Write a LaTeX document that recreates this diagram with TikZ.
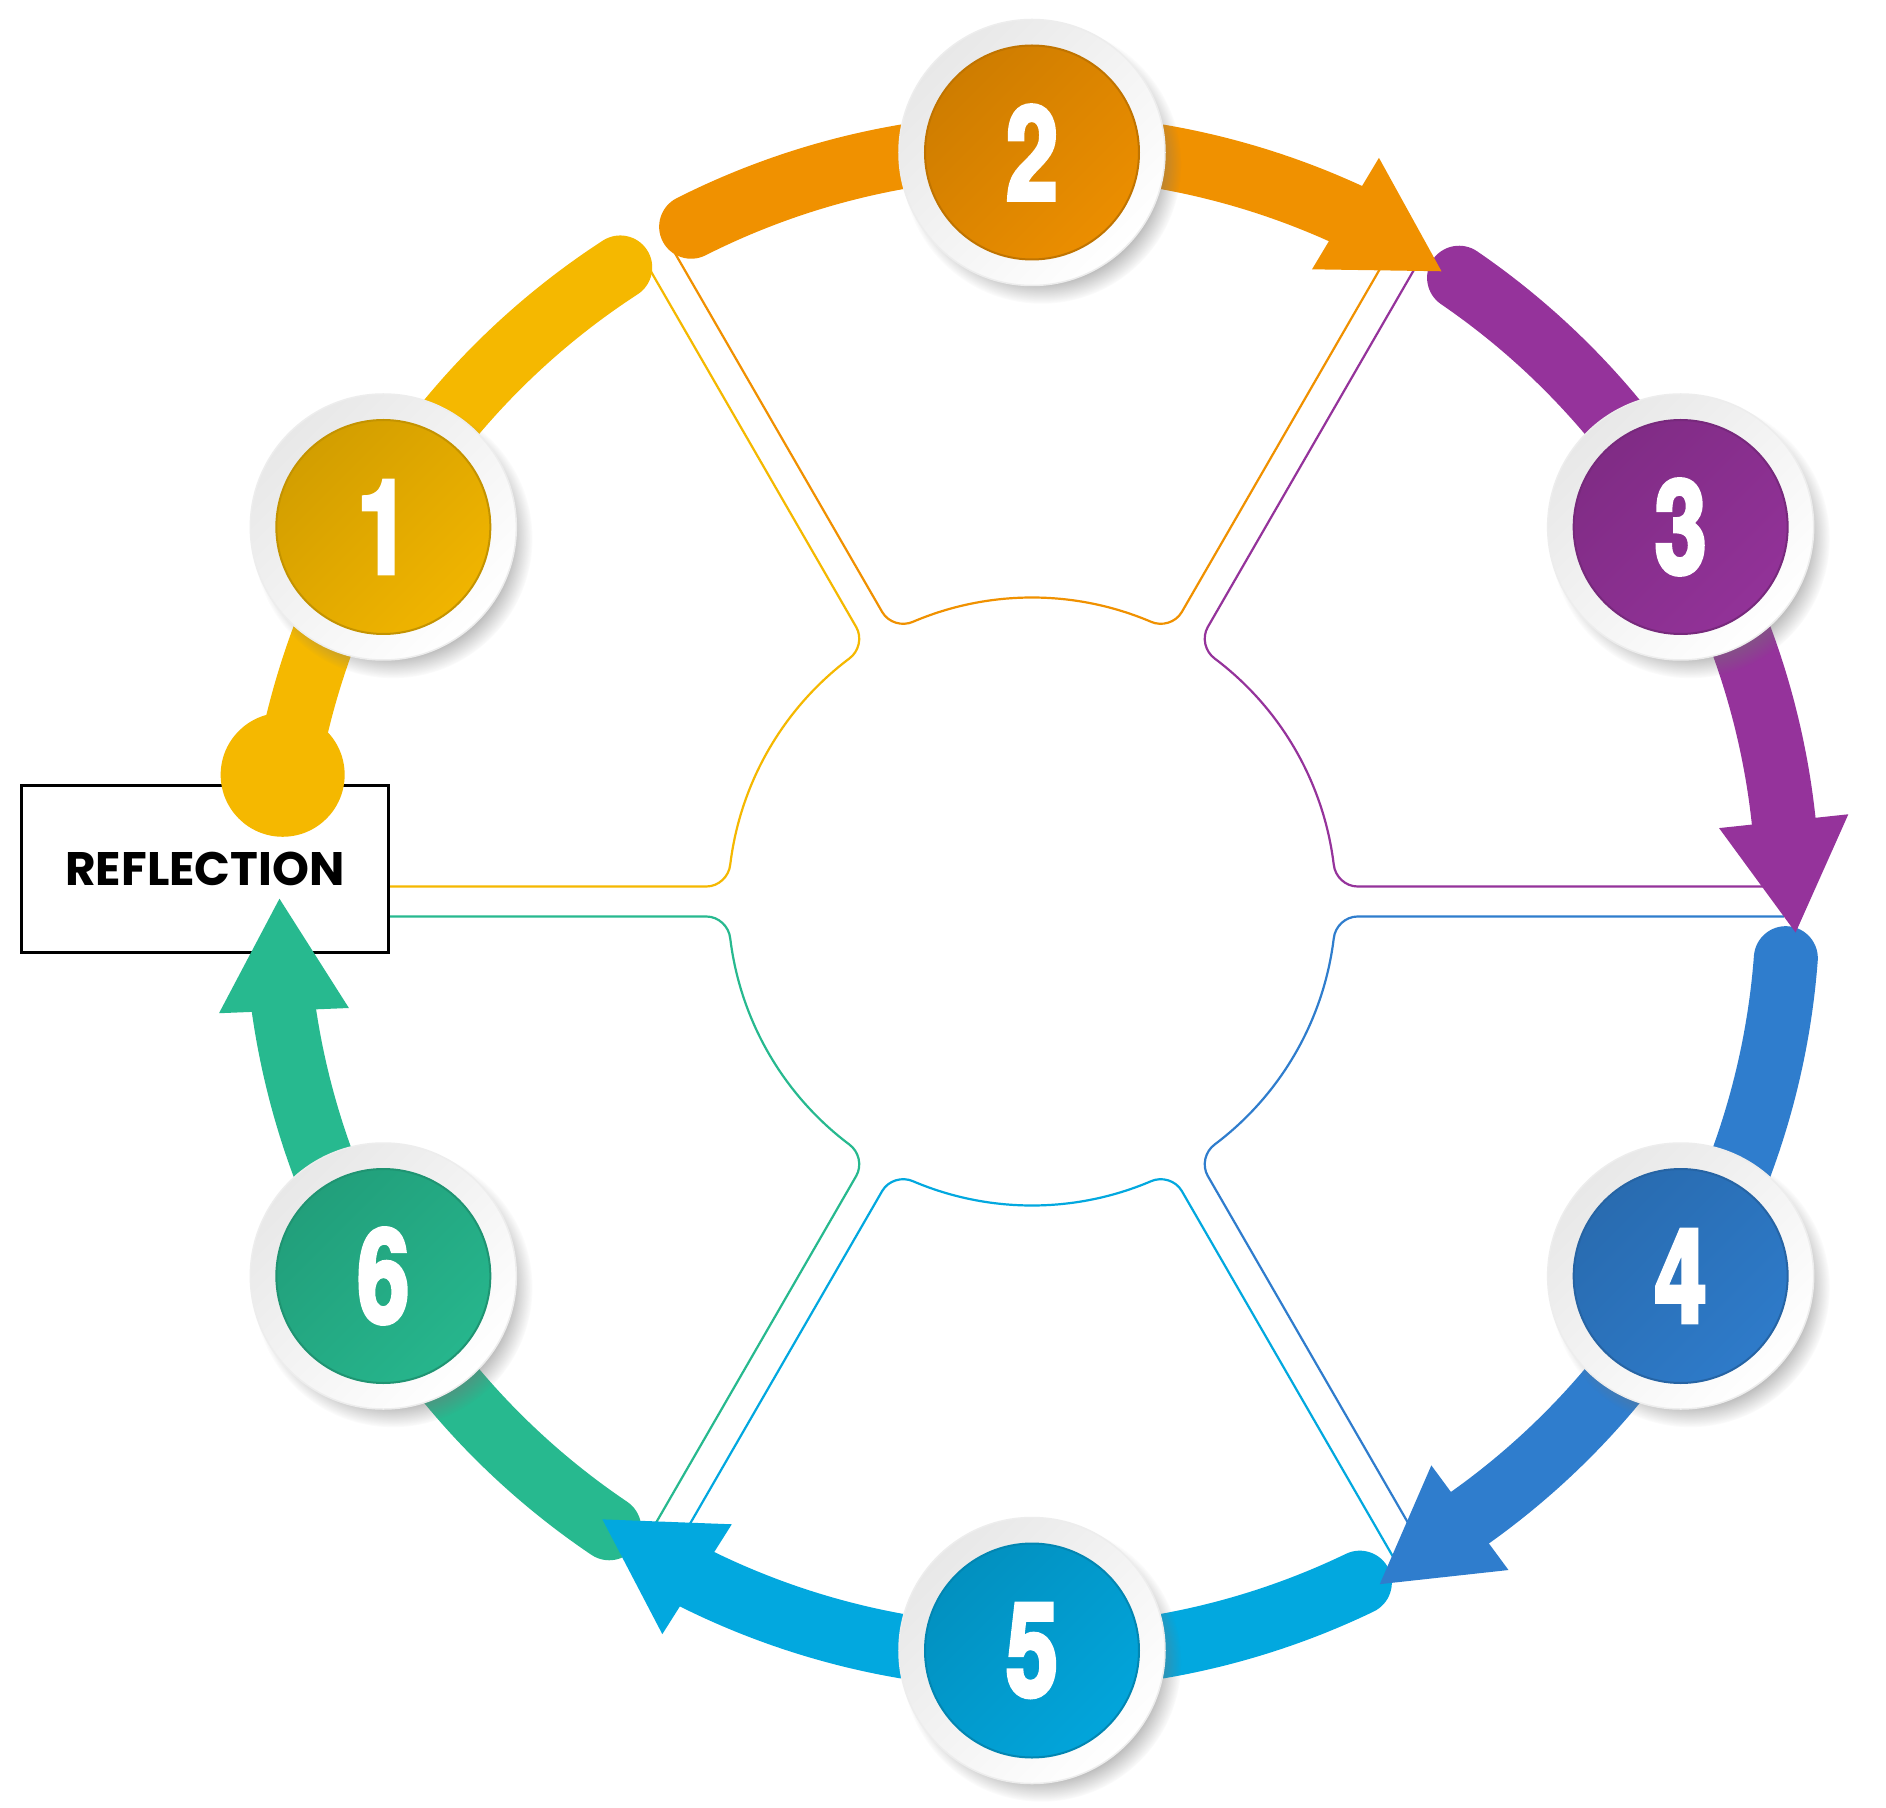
\documentclass[tikz,border=0pt]{standalone}
\usepackage{fontspec}
\usepackage{tikz}
\usetikzlibrary{positioning,shadows,fadings}
\newfontfamily\stepfont{TeX Gyre Heros}[FakeStretch=0.71,FakeBold=3]
\newfontfamily\tagfont{Poppins}
\definecolor{cYel}{HTML}{F5B800}
\definecolor{cOra}{HTML}{F09100}
\definecolor{cPur}{HTML}{95339B}
\definecolor{cBlu}{HTML}{2F7DCD}
\definecolor{cCya}{HTML}{02A8DF}
\definecolor{cGrn}{HTML}{27B98F}
\tikzset{
  band/.style={line width=64pt,line cap=round,draw=#1},
  petal/.style={line width=2.2pt,draw=#1},
  dot/.style={circle,fill=#1,minimum size=124pt,inner sep=0pt},
  ring/.style={circle,minimum size=266pt,inner sep=0pt,left color=black!9,right color=white,shading angle=45,draw=black!7,line width=1.5pt,
    circular drop shadow={shadow xshift=9pt,shadow yshift=-11pt,shadow scale=1.05,fill=black!55,opacity=.45}},
  disc/.style={circle,minimum size=214pt,inner sep=0pt,left color=#1!86!black,right color=#1!98!black,shading angle=45,
    draw=#1!80!black,line width=2pt,text=white,font=\stepfont\bfseries\fontsize{131}{131}\selectfont},
  tagbox/.style={draw=black,line width=2.8pt,fill=white,minimum width=367pt,minimum height=167pt,inner sep=0pt,
    font=\tagfont\bfseries\fontsize{47}{47}\selectfont},
}
\begin{document}
\begin{tikzpicture}[x=1pt,y=1pt]
 \fill[white] (-1032,-905.5) rectangle (854,901.5);
 \useasboundingbox (-1032,-905.5) rectangle (854,901.5);
 \coordinate (o) at (0,0);
 % inner petals
 \foreach \a/\col in {120/cYel,60/cOra,0/cPur,-60/cBlu,-120/cCya,180/cGrn}
  \draw[petal=\col] (\a+1.14:752) -- (\a+2.64:325.9) .. controls (\a+2.74:313.9) and (\a+4.69:304) .. (\a+6.97:304)
   arc[start angle=\a+6.97,end angle=\a+53.03,radius=304]
   .. controls (\a+55.31:304) and (\a+57.26:313.9) .. (\a+57.36:325.9) -- (\a+58.86:752);
 % reflection box
 \node[tagbox] (refl) at (-827,32.5) {REFLECTION};
 % bands
 \draw[band=cYel] (123:756) arc[start angle=123,end angle=170,radius=756];
 \node[dot=cYel] (d1) at (170.4:760) {};
 \foreach \s/\b/\col in {116.8/65.5/cOra,55.6/6.1/cPur,-4.3/-54.6/cBlu,-64.3/-116.3/cCya,-124/-171.7/cGrn}
  \draw[band=\col] (\s:756) arc[start angle=\s,end angle=\b-1,radius=756];
 \foreach \b/\d/\col in {65.5/6.5/cOra,6.1/0/cPur,-54.6/-1/cBlu,-116.3/6/cCya,188.3/6/cGrn}
  \fill[\col,shift={(\b:756)},rotate=\b-90-\d] (0,65) -- (0,-65) -- (112,0) -- cycle;
 % steps
 \foreach \i/\ang/\col in {1/150/cYel,2/90/cOra,3/30/cPur,4/-30/cBlu,5/-90/cCya,6/-150/cGrn}{
  \node[ring] (r\i) at (\ang:749) {};
  \node[disc=\col] (s\i) at (\ang:749) {\i};
 }
\end{tikzpicture}
\end{document}
